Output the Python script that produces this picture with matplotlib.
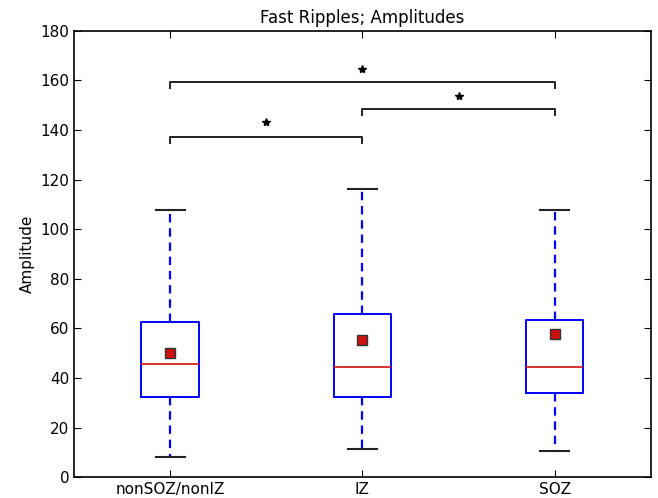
import matplotlib
matplotlib.use("Agg")
import matplotlib.pyplot as plt

labels = ["nonSOZ/nonIZ", "IZ", "SOZ"]
whislo = [8.1, 11.3, 10.5]
q1 = [32.3, 32.3, 33.9]
med = [45.6, 44.4, 44.4]
q3 = [62.5, 65.8, 63.4]
whishi = [107.7, 116.2, 107.7]
means = [50.0, 55.3, 57.7]

# significance brackets: (left box, right box, bar height, star height)
pairs = [(1, 2), (2, 3), (1, 3)]
bar_y = [137.3, 148.5, 159.4]
star_y = [143.3, 153.8, 164.6]

stats = []
for i in range(3):
    stats.append(dict(label=labels[i], whislo=whislo[i], q1=q1[i], med=med[i],
                      q3=q3[i], whishi=whishi[i], mean=means[i], fliers=[]))

fig = plt.figure(figsize=(6.58, 4.98), dpi=100)
ax = fig.add_axes([0.1125, 0.042, 0.8765, 0.896])

ax.bxp(stats, positions=[1, 2, 3], widths=0.3, showmeans=True,
       boxprops=dict(color="blue", linewidth=1.4),
       whiskerprops=dict(color="blue", linestyle="--", linewidth=1.6, dashes=(3.8, 2.6)),
       capprops=dict(color="#222222", linewidth=1.5),
       medianprops=dict(color="#d62020", linewidth=1.3),
       meanprops=dict(marker="s", markerfacecolor="#cc1111", markeredgecolor="#333333",
                      markersize=6.5))

for (a, b), yb, ys in zip(pairs, bar_y, star_y):
    ax.plot([a, a, b, b], [yb - 2.4, yb, yb, yb - 2.4], color="#222222", linewidth=1.4)
    ax.plot((a + b) / 2, ys, marker="*", color="black", markersize=6)

ax.set_xlim(0.5, 3.5)
ax.set_ylim(0, 180)
ax.set_yticks(range(0, 181, 20))
ax.set_xticks([1, 2, 3])
ax.set_xticklabels(labels)
ax.tick_params(direction="in", top=True, right=True, labelsize=11, length=5)
ax.set_ylabel("Amplitude", fontsize=11)
ax.set_title("Fast Ripples; Amplitudes", fontsize=12)
for s in ax.spines.values():
    s.set_linewidth(1.2)

fig.savefig("out.png", dpi=100)
